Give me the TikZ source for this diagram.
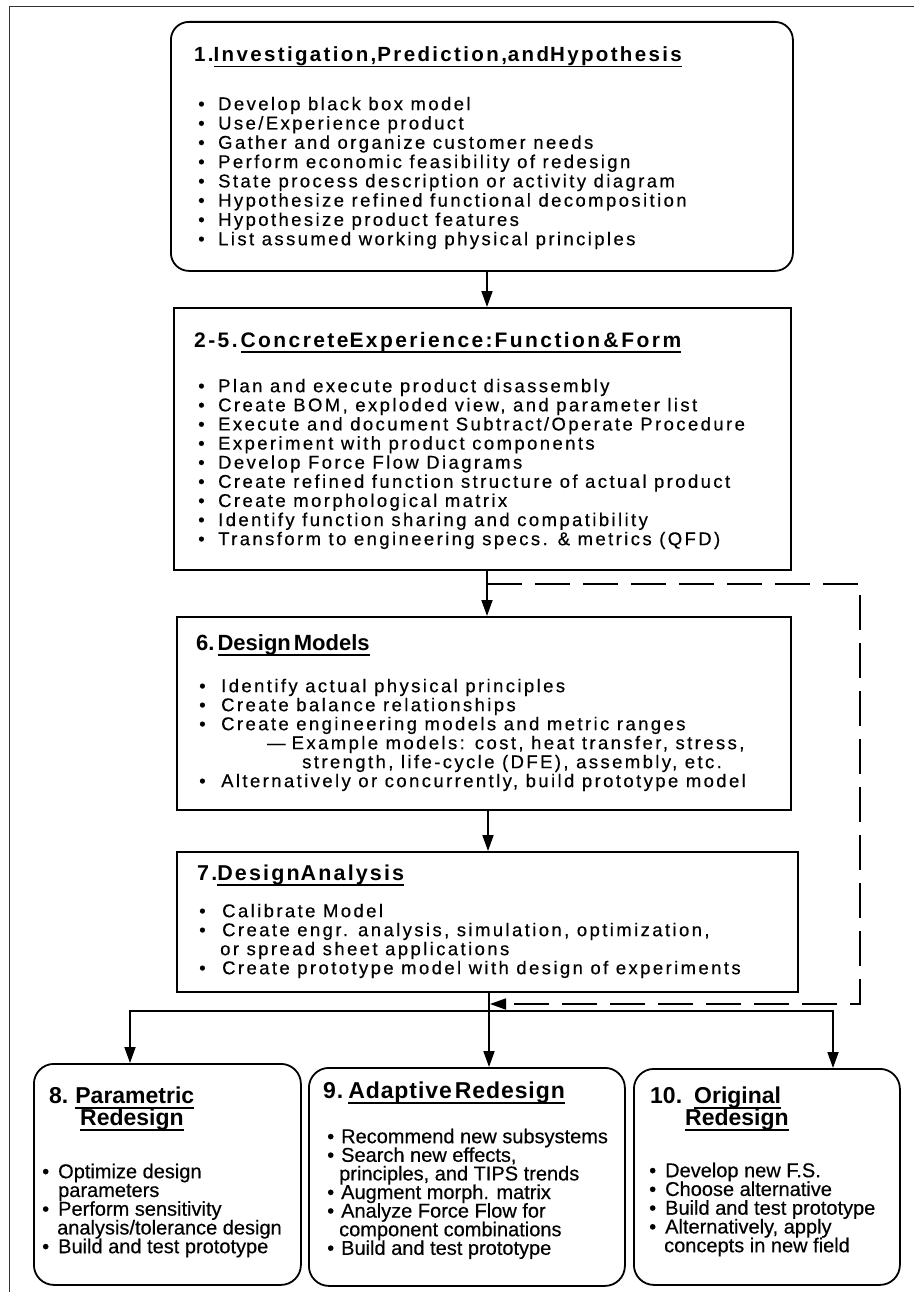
\documentclass[tikz,border=0pt]{standalone}
\usepackage{fontspec}
\setmainfont{Liberation Sans}
\newfontfamily\fA{Liberation Sans}[LetterSpace=13, FakeBold=0.4]
\newfontfamily\fT{Liberation Sans}[LetterSpace=11.5]
\newfontfamily\fU{Liberation Sans}[LetterSpace=10]
\newfontfamily\fW{Liberation Sans}[LetterSpace=4]
\newfontfamily\fN{Liberation Sans}
\newfontfamily\fL{Liberation Sans}[FakeBold=0.4]
\usetikzlibrary{arrows.meta}
\lineskiplimit=-50pt
\newcommand\myul[1]{\setbox0=\hbox{#1}\rlap{\rule[-5.5pt]{\wd0}{1.6pt}}\box0}
\newcommand\bl[1][20pt]{\makebox[#1][l]{\textbullet}}
\tikzset{
  box/.style={draw, line width=1.8pt, inner sep=0pt, anchor=north west},
  rbox/.style={box, rounded corners=18pt},
  lst/.style={anchor=north west, inner sep=0pt, align=left},
  ttl/.style={anchor=base west, inner sep=0pt},
  conn/.style={line width=1.8pt},
  arr/.style={conn, -{Triangle[length=16pt,width=11pt]}},
  dsh/.style={arr, dash pattern=on 35pt off 13pt},
  upfont/.style={font=\fA\fontsize{18.5}{#1}\selectfont},
  lowfont/.style={font=\fL\fontsize{20}{#1}\selectfont},
}
\begin{document}
\begin{tikzpicture}[x=1pt,y=-1pt]
\useasboundingbox (0,0) rectangle (914,1292);
\fill[white] (0,0) rectangle (914,1292);
% outer frame
\draw[line width=1pt, black!80] (9,1292) -- (9,7) -- (914,7);

% boxes
\node[rbox, minimum width=622pt, minimum height=249pt] (b1) at (170,21) {};
\node[box, minimum width=617pt, minimum height=262pt] (b2) at (173,307) {};
\node[box, minimum width=614pt, minimum height=193pt] (b3) at (176,616) {};
\node[box, minimum width=621pt, minimum height=140pt] (b4) at (176,851) {};
\node[rbox, rounded corners=20pt, minimum width=267pt, minimum height=221pt] (b8) at (33,1063) {};
\node[rbox, rounded corners=20pt, minimum width=316pt, minimum height=218pt] (b9) at (308,1067) {};
\node[rbox, rounded corners=20pt, minimum width=266pt, minimum height=216pt] (b10) at (633,1068) {};

% titles
\node[ttl, font=\fT\bfseries\fontsize{20.5}{24}\selectfont] (t1) at (194,62)
  {1.\myul{Investigation,\hspace{1pt}Prediction,\hspace{1pt}and\hspace{1pt}Hypothesis}};
\node[ttl, font=\fT\bfseries\fontsize{21}{24}\selectfont] (t2) at (194,347)
  {2-5.\hspace{3pt}\myul{Concrete\hspace{1pt}Experience:\hspace{2pt}Function\hspace{3pt}\&\hspace{3pt}Form}};
\node[ttl, font=\fN\bfseries\fontsize{22}{24}\selectfont] (t3) at (196,650)
  {6.\hspace{3pt}\myul{Design\hspace{3pt}Models}};
\node[ttl, font=\fU\bfseries\fontsize{21.5}{24}\selectfont] (t4) at (197,880)
  {7.\myul{Design\hspace{1pt}Analysis}};
\node[ttl, font=\fN\bfseries\fontsize{23}{26}\selectfont] (t8) at (49,1103)
  {8.\hspace{7pt}\myul{Parametric}};
\node[ttl, font=\fN\bfseries\fontsize{23}{26}\selectfont] (t8b) at (80,1125)
  {\myul{Redesign}};
\node[ttl, font=\fW\bfseries\fontsize{23}{26}\selectfont] (t9) at (323,1098)
  {9.\hspace{5pt}\myul{Adaptive\hspace{3pt}Redesign}};
\node[ttl, font=\fN\bfseries\fontsize{23}{26}\selectfont] (t10) at (650,1103)
  {10.\hspace{12pt}\myul{Original}};
\node[ttl, font=\fN\bfseries\fontsize{23}{26}\selectfont] (t10b) at (685,1125)
  {\myul{Redesign}};

% lists
\node[lst, upfont=19.29] (l1) at (198,95) {\rule{0pt}{15pt}\bl Develop black box model\\
\bl Use/Experience product\\
\bl Gather and organize customer needs\\
\bl Perform economic feasibility of redesign\\
\bl State process description or activity diagram\\
\bl Hypothesize refined functional decomposition\\
\bl Hypothesize product features\\
\bl List assumed working physical principles};

\node[lst, upfont=19.125] (l2) at (198,377) {\rule{0pt}{15pt}\bl Plan and execute product disassembly\\
\bl Create BOM, exploded view, and parameter list\\
\bl Execute and document Subtract/Operate Procedure\\
\bl Experiment with product components\\
\bl Develop Force Flow Diagrams\\
\bl Create refined function structure of actual product\\
\bl Create morphological matrix\\
\bl Identify function sharing and compatibility\\
\bl Transform to engineering specs. \& metrics (QFD)};

\node[lst, upfont=19] (l3) at (199,677) {\rule{0pt}{15pt}\bl[22pt]Identify actual physical principles\\
\bl[22pt]Create balance relationships\\
\bl[22pt]Create engineering models and metric ranges\\
\hspace*{68pt}—\hspace{6pt}Example models: cost, heat transfer, stress,\\
\hspace*{103pt}strength, life-cycle (DFE), assembly, etc.\\
\bl[22pt]Alternatively or concurrently, build prototype model};

\node[lst, upfont=19] (l4) at (199,902) {\rule{0pt}{15pt}\bl[23pt]Calibrate Model\\
\bl[23pt]Create engr. analysis, simulation, optimization,\\
\hspace*{21pt}or spread sheet applications\\
\bl[23pt]Create prototype model with design of experiments};

\node[lst, lowfont=18.75] (l8) at (42,1161) {\rule{0pt}{17pt}\bl[16pt]Optimize design\\
\hspace*{16pt}parameters\\
\bl[16pt]Perform sensitivity\\
\hspace*{15pt}analysis/tolerance design\\
\bl[16pt]Build and test prototype};

\node[lst, lowfont=18.6] (l9) at (327,1126) {\rule{0pt}{17pt}\bl[14pt]Recommend new subsystems\\
\bl[14pt]Search new effects,\\
\hspace*{12pt}principles, and TIPS trends\\
\bl[14pt]Augment morph. matrix\\
\bl[14pt]Analyze Force Flow for\\
\hspace*{12pt}component combinations\\
\bl[14pt]Build and test prototype};

\node[lst, lowfont=18.75] (l10) at (649,1160) {\rule{0pt}{17pt}\bl[16pt]Develop new F.S.\\
\bl[16pt]Choose alternative\\
\bl[16pt]Build and test prototype\\
\bl[16pt]Alternatively, apply\\
\hspace*{15pt}concepts in new field};

% connectors
\coordinate (ax1) at (487,0);
\coordinate (ax2) at (488,0);
\coordinate (jh) at (489,1011);
\coordinate (lx) at (130,1011);
\coordinate (rx) at (833,1011);
\coordinate (d0) at (487,584);
\coordinate (d1) at (860,584);
\coordinate (d2) at (860,1004);
\coordinate (d3) at (490,1004);

\draw[arr] (b1.south -| ax1) -- (b2.north -| ax1);
\draw[arr] (b2.south -| ax1) -- (b3.north -| ax1);
\draw[arr] (b3.south -| ax2) -- (b4.north -| ax2);
\draw[arr] (b4.south -| jh) -- (b9.north -| jh);
\draw[arr] (jh) -- (lx) -- (lx |- b8.north);
\draw[arr] (jh) -- (rx) -- (rx |- b10.north);
\draw[dsh] (d0) -- (d1) -- (d2) -- (d3);
\end{tikzpicture}
\end{document}
